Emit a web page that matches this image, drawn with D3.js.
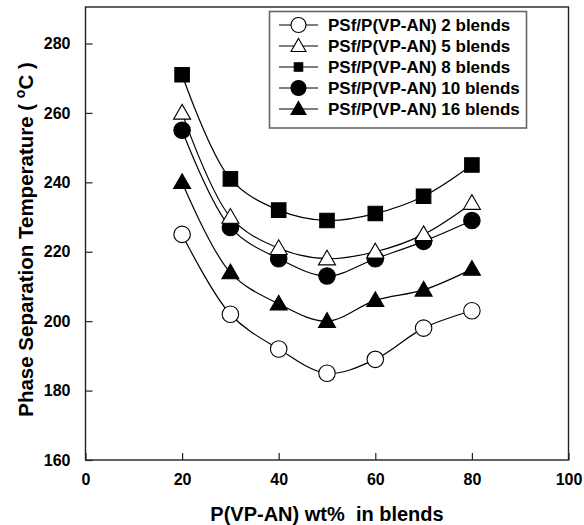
<!DOCTYPE html>
<html><head><meta charset="utf-8">
<script src="https://cdn.jsdelivr.net/npm/d3@7"></script>
<style>
html,body{margin:0;padding:0;background:#fff;}
svg{display:block;font-family:"Liberation Sans",Arial,sans-serif;font-weight:bold;}
</style></head>
<body>
<svg id="chart" width="584" height="525"></svg>
<script>
const xValues = [20, 30, 40, 50, 60, 70, 80];
const blend2 = [225, 202, 192, 185, 189, 198, 203];
const blend5 = [260, 230, 221, 218, 220, 225, 234];
const blend8 = [271, 241, 232, 229, 231, 236, 245];
const blend10 = [255, 227, 218, 213, 218, 223, 229];
const blend16 = [240, 214, 205, 200, 206, 209, 215];
const seriesNames = ["PSf/P(VP-AN) 2 blends", "PSf/P(VP-AN) 5 blends", "PSf/P(VP-AN) 8 blends", "PSf/P(VP-AN) 10 blends", "PSf/P(VP-AN) 16 blends"];
const xTicks = [0, 20, 40, 60, 80, 100];
const yTicks = [160, 180, 200, 220, 240, 260, 280];
const xTitle = "P(VP-AN) wt%  in blends";

const series = [
  {name: seriesNames[0], values: blend2, shape: "circle", fill: "#fff"},
  {name: seriesNames[1], values: blend5, shape: "triangle", fill: "#fff"},
  {name: seriesNames[2], values: blend8, shape: "square", fill: "#000"},
  {name: seriesNames[3], values: blend10, shape: "circle", fill: "#000"},
  {name: seriesNames[4], values: blend16, shape: "triangle", fill: "#000"}
];

const svg = d3.select("#chart");
const pLeft = 85.5, pRight = 568.5, pTop = 7, pBottom = 460;
const x = d3.scaleLinear().domain([0, 100]).range([pLeft, pRight]);
const y = d3.scaleLinear().domain([160, 280]).range([pBottom, 43.5]);

// frame
svg.append("rect").attr("x", pLeft).attr("y", pTop).attr("width", pRight - pLeft).attr("height", pBottom - pTop)
  .attr("fill", "none").attr("stroke", "#222").attr("stroke-width", 1.4);

// axes (ticks inward)
const xAxis = d3.axisBottom(x).tickValues(xTicks).tickSize(-7).tickPadding(14).tickFormat(d3.format("d"));
const gx = svg.append("g").attr("transform", `translate(0,${pBottom})`).call(xAxis);
const yAxis = d3.axisLeft(y).tickValues(yTicks).tickSize(-7).tickPadding(15).tickFormat(d3.format("d"));
const gy = svg.append("g").attr("transform", `translate(${pLeft},0)`).call(yAxis);
[gx, gy].forEach(g => {
  g.select(".domain").remove();
  g.selectAll(".tick line").attr("stroke", "#222").attr("stroke-width", 1.2);
  g.selectAll(".tick text").attr("fill", "#000").style("font-size", "16px").style("font-family", "'Liberation Sans',Arial,sans-serif").style("font-weight", "bold");
});

// axis titles
svg.append("text").attr("x", (pLeft + pRight) / 2).attr("y", 521).attr("text-anchor", "middle")
  .style("font-size", "20px").style("white-space", "pre").attr("xml:space", "preserve").text(xTitle);
const yt = svg.append("text").attr("transform", `translate(33,${(pTop + pBottom) / 2 + 6}) rotate(-90)`)
  .attr("text-anchor", "middle").style("font-size", "20.5px").style("white-space", "pre");
yt.append("tspan").text("Phase Separation Temperature ( ");
yt.append("tspan").attr("dy", -8).style("font-size", "14px").text("o");
yt.append("tspan").attr("dy", 8).text("C )");

function markerPath(shape, s) {
  if (shape === "square") { const h = s / 2; return `M${-h},${-h}H${h}V${h}H${-h}Z`; }
  if (shape === "triangle") { const h = s * Math.sqrt(3) / 2; return `M0,${-h * 0.58}L${s / 2},${h * 0.42}L${-s / 2},${h * 0.42}Z`; }
  const r = s / 2; return `M${r},0A${r},${r} 0 1,1 ${-r},0A${r},${r} 0 1,1 ${r},0Z`;
}
const plotSize = {circle: 16.5, triangle: 17, square: 14.5};
const legendSize = {circle: 15, triangle: 15, square: 8.5};

const line = d3.line().x((d, i) => x(xValues[i])).y(d => y(d)).curve(d3.curveCatmullRom.alpha(0.5));
const plotG = svg.append("g");
series.slice().reverse().forEach(s => {
  plotG.append("path").attr("d", line(s.values)).attr("fill", "none").attr("stroke", "#000").attr("stroke-width", 1.2);
});
series.slice().reverse().forEach(s => {
  plotG.selectAll(null).data(s.values).enter().append("path")
    .attr("transform", (d, i) => `translate(${x(xValues[i])},${y(d)})`)
    .attr("d", markerPath(s.shape, plotSize[s.shape]))
    .attr("fill", s.fill).attr("stroke", "#000").attr("stroke-width", 1.1);
});

// legend
const lg = svg.append("g");
lg.append("rect").attr("x", 269.5).attr("y", 11.5).attr("width", 257).attr("height", 116.5)
  .attr("fill", "#fff").attr("stroke", "#666").attr("stroke-width", 1.6);
series.forEach((s, i) => {
  const cy = 25 + i * 21;
  lg.append("line").attr("x1", 279).attr("x2", 318).attr("y1", cy).attr("y2", cy).attr("stroke", "#000").attr("stroke-width", 1.2);
  lg.append("path").attr("transform", `translate(298.5,${cy})`).attr("d", markerPath(s.shape, legendSize[s.shape]))
    .attr("fill", s.fill).attr("stroke", "#000").attr("stroke-width", 1.1);
  lg.append("text").attr("x", 328).attr("y", cy + 6).style("font-size", "17px").text(s.name);
});
</script>
</body></html>
